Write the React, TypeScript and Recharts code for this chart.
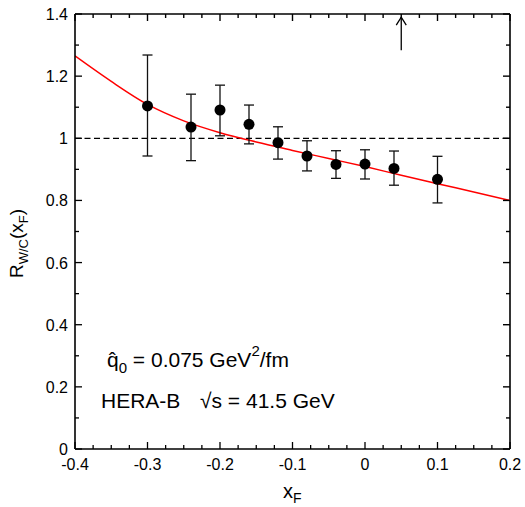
import React from 'react';
import {
  ComposedChart, Line, Scatter, ErrorBar, XAxis, YAxis, ReferenceLine
} from 'recharts';

// measured points (HERA-B)
const xF = [-0.3, -0.24, -0.2, -0.16, -0.12, -0.08, -0.04, 0, 0.04, 0.1];
const rWC = [1.104, 1.036, 1.091, 1.045, 0.986, 0.943, 0.916, 0.917, 0.903, 0.868];
const rHigh = [1.268, 1.142, 1.171, 1.107, 1.037, 0.992, 0.96, 0.963, 0.959, 0.942];
const rLow = [0.943, 0.928, 1.008, 0.982, 0.933, 0.895, 0.871, 0.869, 0.849, 0.792];

// model curve
const curveX = [-0.4, -0.35, -0.3, -0.25, -0.2, -0.15, -0.1, -0.05, 0, 0.05, 0.1, 0.15, 0.2];
const curveY = [1.265, 1.183, 1.109, 1.056, 1.018, 0.988, 0.961, 0.935, 0.909, 0.881, 0.854, 0.827, 0.8];

// arrow at top
const arrowX = 0.05;
const arrowTip = 1.39;
const arrowTail = 1.283;

const xMajor = [-0.4, -0.3, -0.2, -0.1, 0, 0.1, 0.2];
const xMinor = [-0.375, -0.35, -0.325, -0.275, -0.25, -0.225, -0.175, -0.15, -0.125,
  -0.075, -0.05, -0.025, 0.025, 0.05, 0.075, 0.125, 0.15, 0.175];
const yMajor = [0, 0.2, 0.4, 0.6, 0.8, 1, 1.2, 1.4];
const yMinor = [0.1, 0.3, 0.5, 0.7, 0.9, 1.1, 1.3];

const FONT = '"Liberation Sans", Arial, sans-serif';

const W = 525;
const H = 507;
const MARGIN = { top: 14, right: 15, bottom: 28, left: 0 };
const X_AXIS_H = 30;
const Y_AXIS_W = 75;
const PLOT_W = W - Y_AXIS_W - MARGIN.right;
const PLOT_H = H - MARGIN.top - MARGIN.bottom - X_AXIS_H;
const X_DOMAIN = [-0.4, 0.2];
const Y_DOMAIN = [0, 1.4];

const points = xF.map((x, i) => ({ x, y: rWC[i], err: [rWC[i] - rLow[i], rHigh[i] - rWC[i]] }));
const curve = curveX.map((x, i) => ({ x, y: curveY[i] }));
const xTicks = [...xMajor, ...xMinor].sort((a, b) => a - b);
const yTicks = [...yMajor, ...yMinor].sort((a, b) => a - b);

const isIn = (list: number[], v: number) => list.some(m => Math.abs(m - v) < 1e-6);
const fmt = (v: number) => String(Math.round(v * 100) / 100);

// frame-edge positions for the mirrored top/right tick marks
const frameX = (v: number) => Y_AXIS_W + ((v - X_DOMAIN[0]) / (X_DOMAIN[1] - X_DOMAIN[0])) * PLOT_W;
const frameY = (v: number) => MARGIN.top + PLOT_H - ((v - Y_DOMAIN[0]) / (Y_DOMAIN[1] - Y_DOMAIN[0])) * PLOT_H;

function BottomTick(props: any) {
  const { x, y, payload } = props;
  const len = isIn(xMajor, payload.value) ? 7 : 4;
  return (
    <g>
      <line x1={x} x2={x} y1={y} y2={y - len} stroke="#000" strokeWidth={1.3} />
      {len === 7 && (
        <text x={x} y={y + 21} textAnchor="middle" fontSize={16} fontFamily={FONT} fill="#000">
          {fmt(payload.value)}
        </text>
      )}
    </g>
  );
}

function LeftTick(props: any) {
  const { x, y, payload } = props;
  const len = isIn(yMajor, payload.value) ? 7 : 4;
  return (
    <g>
      <line x1={x} x2={x + len} y1={y} y2={y} stroke="#000" strokeWidth={1.3} />
      {len === 7 && (
        <text x={x - 7} y={y + 6} textAnchor="end" fontSize={16} fontFamily={FONT} fill="#000">
          {fmt(payload.value)}
        </text>
      )}
    </g>
  );
}

const Dot = (props: any) => <circle cx={props.cx} cy={props.cy} r={5.5} fill="#000" />;

const ArrowHead = (props: any) => (
  <path d={`M${props.cx - 5},${props.cy + 8} L${props.cx},${props.cy} L${props.cx + 5},${props.cy + 8}`}
    fill="none" stroke="#000" strokeWidth={1.3} />
);

export default function App() {
  const top = MARGIN.top;
  const right = Y_AXIS_W + PLOT_W;
  return (
    <div style={{ position: 'absolute', left: 0, top: 0, width: W, height: H, background: '#fff' }}>
      <ComposedChart width={W} height={H} margin={MARGIN}>
        <XAxis dataKey="x" type="number" domain={X_DOMAIN} ticks={xTicks} interval={0}
          tick={<BottomTick />} tickLine={false} tickSize={0} tickMargin={0} height={X_AXIS_H}
          axisLine={{ stroke: '#000', strokeWidth: 1.6 }} allowDataOverflow />
        <YAxis type="number" domain={Y_DOMAIN} ticks={yTicks} interval={0}
          tick={<LeftTick />} tickLine={false} tickSize={0} tickMargin={0} width={Y_AXIS_W}
          axisLine={{ stroke: '#000', strokeWidth: 1.6 }} allowDataOverflow />
        <ReferenceLine y={1.4} stroke="#000" strokeWidth={1.6} />
        <ReferenceLine x={0.2} stroke="#000" strokeWidth={1.6} />
        <ReferenceLine y={1} stroke="#000" strokeWidth={1.3} strokeDasharray="6 3.5" />
        <ReferenceLine segment={[{ x: arrowX, y: arrowTail }, { x: arrowX, y: arrowTip }]}
          stroke="#000" strokeWidth={1.3} />
        <Line data={curve} dataKey="y" type="monotone" stroke="#ff0000"
          strokeWidth={1.5} dot={false} isAnimationActive={false} />
        <Scatter data={points} dataKey="y" shape={<Dot />} isAnimationActive={false}>
          <ErrorBar dataKey="err" direction="y" width={5} stroke="#111" strokeWidth={1.3} />
        </Scatter>
        <Scatter data={[{ x: arrowX, y: arrowTip }]} dataKey="y" shape={<ArrowHead />}
          isAnimationActive={false} />
      </ComposedChart>
      <svg width={W} height={H} style={{ position: 'absolute', left: 0, top: 0, pointerEvents: 'none' }}
        fontFamily={FONT} fill="#000">
        <g stroke="#000" strokeWidth={1.4}>
          {xTicks.map(v => (
            <line key={`t${v}`} x1={frameX(v)} x2={frameX(v)} y1={top}
              y2={top + (isIn(xMajor, v) ? 7 : 4)} />
          ))}
          {yTicks.map(v => (
            <line key={`r${v}`} x1={right} x2={right - (isIn(yMajor, v) ? 7 : 4)}
              y1={frameY(v)} y2={frameY(v)} />
          ))}
        </g>
        <text transform="translate(23,278) rotate(-90)" fontSize={19}>
          <tspan>R</tspan>
          <tspan fontSize={13} dy={5}>W/C</tspan>
          <tspan dy={-5}>(x</tspan>
          <tspan fontSize={13} dy={5}>F</tspan>
          <tspan dy={-5}>)</tspan>
        </text>
        <text x={283} y={498} fontSize={20}>
          <tspan>x</tspan>
          <tspan fontSize={14} dy={5}>F</tspan>
        </text>
        <text x={107} y={367} fontSize={21}>
          <tspan>q̂</tspan>
          <tspan fontSize={15} dy={6}>0</tspan>
          <tspan dy={-6}> = 0.075 GeV</tspan>
          <tspan fontSize={15} dy={-11}>2</tspan>
          <tspan dy={11}>/fm</tspan>
        </text>
        <text x={101} y={408} fontSize={21}>
          <tspan>HERA-B</tspan>
          <tspan x={200}>√s = 41.5 GeV</tspan>
        </text>
      </svg>
    </div>
  );
}
